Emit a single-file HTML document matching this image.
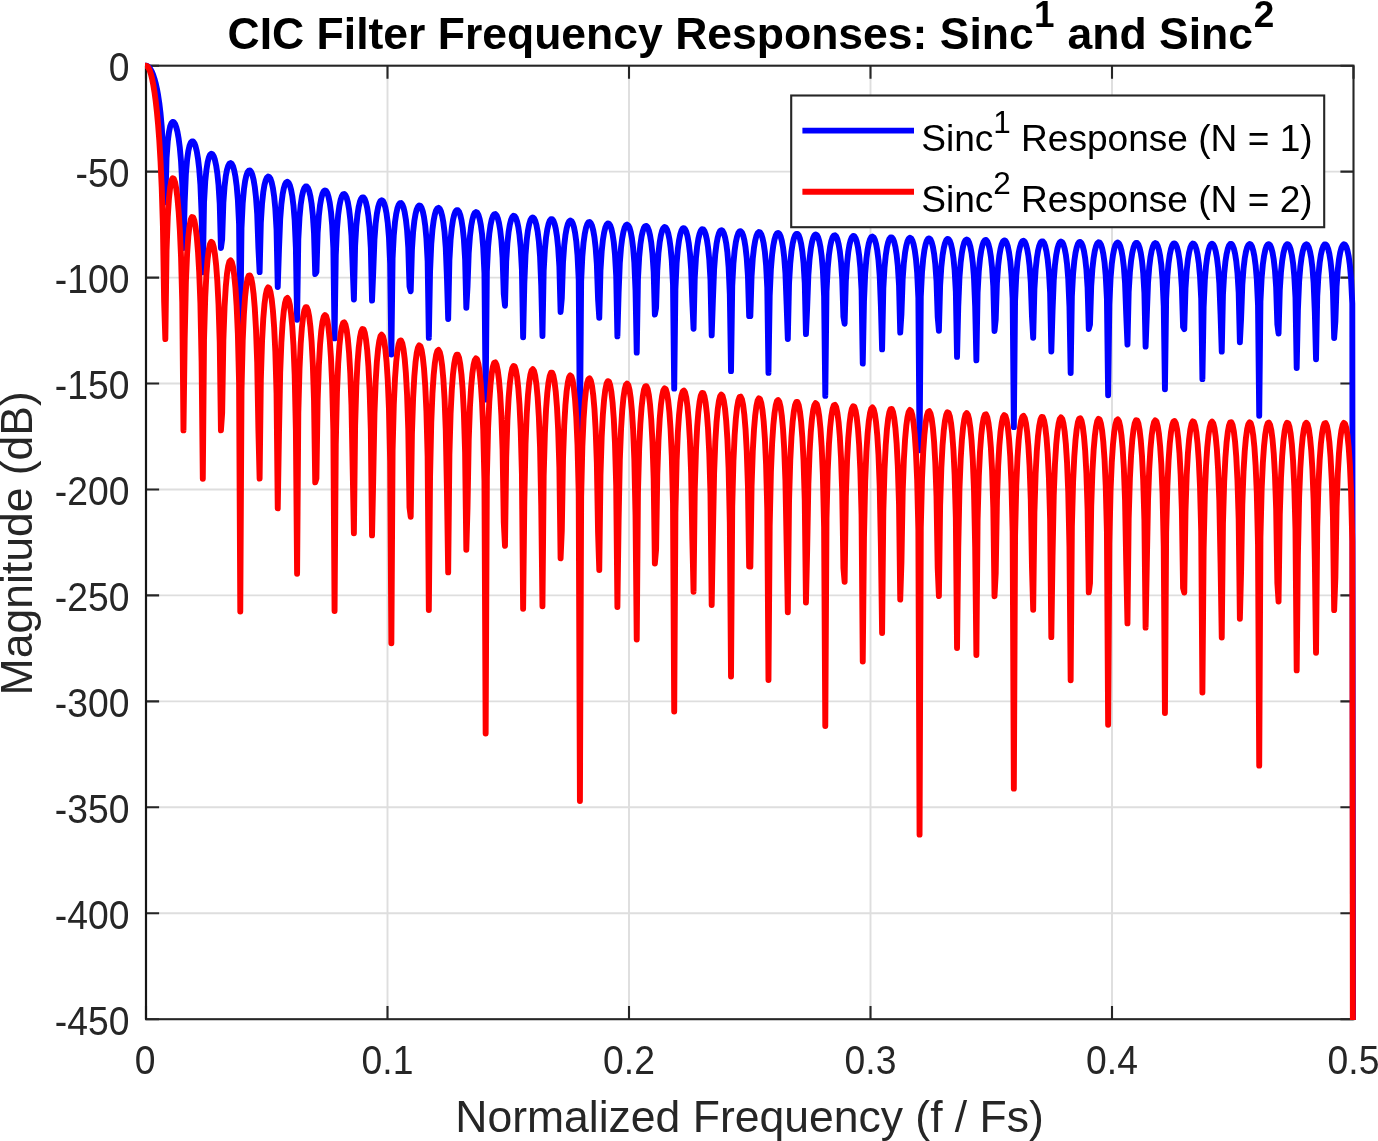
<!DOCTYPE html>
<html><head><meta charset="utf-8"><title>CIC Filter Frequency Responses</title>
<style>html,body{margin:0;padding:0;background:#fff}svg{display:block}</style></head>
<body>
<svg width="1378" height="1141" viewBox="0 0 1378 1141" font-family="'Liberation Sans', Arial, Helvetica, sans-serif">
<rect width="1378" height="1141" fill="#fff"/>
<defs><clipPath id="ax"><rect x="145.0" y="61.7" width="1211.5" height="958.4"/></clipPath></defs>
<path d="M387.50,65.7 V1019.2 M629.00,65.7 V1019.2 M870.50,65.7 V1019.2 M1112.00,65.7 V1019.2 M146.0,171.64 H1353.5 M146.0,277.59 H1353.5 M146.0,383.53 H1353.5 M146.0,489.48 H1353.5 M146.0,595.42 H1353.5 M146.0,701.37 H1353.5 M146.0,807.31 H1353.5 M146.0,913.26 H1353.5" stroke="#dedede" stroke-width="1.9" fill="none"/>
<path d="M146.00,1019.2 v-13.1 M146.00,65.7 v13.1 M387.50,1019.2 v-13.1 M387.50,65.7 v13.1 M629.00,1019.2 v-13.1 M629.00,65.7 v13.1 M870.50,1019.2 v-13.1 M870.50,65.7 v13.1 M1112.00,1019.2 v-13.1 M1112.00,65.7 v13.1 M1353.50,1019.2 v-13.1 M1353.50,65.7 v13.1 M146.0,65.70 h13.1 M1353.5,65.70 h-13.1 M146.0,171.64 h13.1 M1353.5,171.64 h-13.1 M146.0,277.59 h13.1 M1353.5,277.59 h-13.1 M146.0,383.53 h13.1 M1353.5,383.53 h-13.1 M146.0,489.48 h13.1 M1353.5,489.48 h-13.1 M146.0,595.42 h13.1 M1353.5,595.42 h-13.1 M146.0,701.37 h13.1 M1353.5,701.37 h-13.1 M146.0,807.31 h13.1 M1353.5,807.31 h-13.1 M146.0,913.26 h13.1 M1353.5,913.26 h-13.1 M146.0,1019.20 h13.1 M1353.5,1019.20 h-13.1" stroke="#262626" stroke-width="2.1" fill="none"/>
<rect x="146.0" y="65.7" width="1207.5" height="953.5" fill="none" stroke="#262626" stroke-width="2.1"/>
<path d="M146.0,65.7 V1019.2" stroke="#151515" stroke-width="2.1" fill="none"/>
<g clip-path="url(#ax)" fill="none" stroke-linejoin="round" stroke-linecap="round" stroke-width="5.9">
<path d="M146.00,65.70 L147.21,65.95 L148.42,66.70 L149.63,67.96 L150.83,69.77 L152.04,72.14 L153.25,75.13 L154.46,78.80 L155.67,83.26 L156.88,88.64 L158.09,95.16 L159.30,103.15 L160.50,113.22 L161.71,126.51 L162.92,145.97 L164.13,183.70 L165.34,202.39 L166.55,158.33 L167.76,141.44 L168.97,132.03 L170.17,126.43 L171.38,123.28 L172.59,121.97 L173.80,122.22 L175.01,123.92 L176.22,127.07 L177.43,131.83 L178.64,138.55 L179.84,147.93 L181.05,161.53 L182.26,183.97 L183.47,248.04 L184.68,202.49 L185.89,173.93 L187.10,159.77 L188.30,151.22 L189.51,145.86 L190.72,142.72 L191.93,141.35 L193.14,141.52 L194.35,143.16 L195.56,146.35 L196.77,151.29 L197.97,158.42 L199.18,168.70 L200.39,184.42 L201.60,213.71 L202.81,272.21 L204.02,202.66 L205.23,181.55 L206.44,169.70 L207.64,162.24 L208.85,157.52 L210.06,154.81 L211.27,153.78 L212.48,154.25 L213.69,156.22 L214.90,159.81 L216.11,165.29 L217.31,173.27 L218.52,185.05 L219.73,204.12 L220.94,248.03 L222.15,239.40 L223.36,202.90 L224.57,186.30 L225.77,176.30 L226.98,169.86 L228.19,165.82 L229.40,163.63 L230.61,163.04 L231.82,163.95 L233.03,166.38 L234.24,170.52 L235.44,176.75 L236.65,185.86 L237.86,199.70 L239.07,224.09 L240.28,338.62 L241.49,228.43 L242.70,203.21 L243.91,189.69 L245.11,181.18 L246.32,175.67 L247.53,172.29 L248.74,170.65 L249.95,170.55 L251.16,171.95 L252.37,174.93 L253.58,179.74 L254.78,186.87 L255.99,197.43 L257.20,214.13 L258.41,248.02 L259.62,272.13 L260.83,222.76 L262.04,203.59 L263.24,192.34 L264.45,185.07 L265.66,180.40 L266.87,177.66 L268.08,176.57 L269.29,176.99 L270.50,178.92 L271.71,182.51 L272.91,188.08 L274.12,196.31 L275.33,208.71 L276.54,229.59 L277.75,287.02 L278.96,250.03 L280.17,219.35 L281.38,204.04 L282.58,194.55 L283.79,188.35 L285.00,184.44 L286.21,182.32 L287.42,181.78 L288.63,182.73 L289.84,185.24 L291.05,189.50 L292.25,195.96 L293.46,205.51 L294.67,220.34 L295.88,248.00 L297.09,319.73 L298.30,239.46 L299.51,217.15 L300.71,204.57 L301.92,196.50 L303.13,191.24 L304.34,188.02 L305.55,186.50 L306.76,186.51 L307.97,188.02 L309.18,191.14 L310.38,196.15 L311.59,203.63 L312.80,214.83 L314.01,233.05 L315.22,274.04 L316.43,272.00 L317.64,233.08 L318.85,215.70 L320.05,205.17 L321.26,198.29 L322.47,193.86 L323.68,191.31 L324.89,190.36 L326.10,190.92 L327.31,193.01 L328.52,196.80 L329.72,202.65 L330.93,211.35 L332.14,224.64 L333.35,247.98 L334.56,338.34 L335.77,255.27 L336.98,228.83 L338.18,214.75 L339.39,205.84 L340.60,199.99 L341.81,196.31 L343.02,194.39 L344.23,194.01 L345.44,195.13 L346.65,197.83 L347.85,202.35 L349.06,209.16 L350.27,219.32 L351.48,235.43 L352.69,267.60 L353.90,299.45 L355.11,245.78 L356.32,225.85 L357.52,214.17 L358.73,206.59 L359.94,201.64 L361.15,198.67 L362.36,197.34 L363.57,197.53 L364.78,199.23 L365.98,202.58 L367.19,207.89 L368.40,215.82 L369.61,227.82 L370.82,247.95 L372.03,300.56 L373.24,271.82 L374.45,239.55 L375.65,223.71 L376.86,213.88 L378.07,207.43 L379.28,203.29 L380.49,200.96 L381.70,200.21 L382.91,200.97 L384.12,203.28 L385.32,207.33 L386.53,213.54 L387.74,222.80 L388.95,237.17 L390.16,263.68 L391.37,354.49 L392.58,258.34 L393.79,235.15 L394.99,222.17 L396.20,213.83 L397.41,208.35 L398.62,204.94 L399.83,203.23 L401.04,203.06 L402.25,204.40 L403.45,207.34 L404.66,212.15 L405.87,219.40 L407.08,230.27 L408.29,247.91 L409.50,286.53 L410.71,291.28 L411.92,249.88 L413.12,231.92 L414.33,221.07 L415.54,213.97 L416.75,209.35 L417.96,206.63 L419.17,205.52 L420.38,205.92 L421.59,207.85 L422.79,211.47 L424.00,217.13 L425.21,225.58 L426.42,238.50 L427.63,261.00 L428.84,337.88 L430.05,271.58 L431.26,244.00 L432.46,229.50 L433.67,220.33 L434.88,214.29 L436.09,210.44 L437.30,208.36 L438.51,207.84 L439.72,208.82 L440.92,211.37 L442.13,215.71 L443.34,222.33 L444.55,232.23 L445.76,247.87 L446.97,278.58 L448.18,319.03 L449.39,260.30 L450.59,239.68 L451.80,227.68 L453.01,219.88 L454.22,214.76 L455.43,211.63 L456.64,210.17 L457.85,210.22 L459.06,211.79 L460.26,214.99 L461.47,220.14 L462.68,227.86 L463.89,239.55 L465.10,259.04 L466.31,307.71 L467.52,286.64 L468.73,252.72 L469.93,236.41 L471.14,226.32 L472.35,219.68 L473.56,215.38 L474.77,212.92 L475.98,212.05 L477.19,212.68 L478.39,214.86 L479.60,218.76 L480.81,224.80 L482.02,233.83 L483.23,247.82 L484.44,273.32 L485.65,399.61 L486.86,271.29 L488.06,247.23 L489.27,233.89 L490.48,225.34 L491.69,219.69 L492.90,216.15 L494.11,214.32 L495.32,214.03 L496.53,215.24 L497.73,218.05 L498.94,222.72 L500.15,229.78 L501.36,240.39 L502.57,257.53 L503.78,294.07 L504.99,305.74 L506.20,261.59 L507.40,243.07 L508.61,231.95 L509.82,224.66 L511.03,219.90 L512.24,217.05 L513.45,215.82 L514.66,216.11 L515.86,217.92 L517.07,221.41 L518.28,226.92 L519.49,235.17 L520.70,247.77 L521.91,269.52 L523.12,337.23 L524.33,283.52 L525.53,254.75 L526.74,239.85 L527.95,230.46 L529.16,224.25 L530.37,220.28 L531.58,218.08 L532.79,217.45 L534.00,218.32 L535.20,220.75 L536.41,224.96 L537.62,231.42 L538.83,241.09 L540.04,256.32 L541.25,285.70 L542.46,335.97 L543.67,270.94 L544.87,249.63 L546.08,237.33 L547.29,229.34 L548.50,224.08 L549.71,220.83 L550.92,219.25 L552.13,219.20 L553.33,220.66 L554.54,223.75 L555.75,228.76 L556.96,236.30 L558.17,247.71 L559.38,266.62 L560.59,311.98 L561.80,298.15 L563.00,262.45 L564.21,245.67 L565.42,235.34 L566.63,228.54 L567.84,224.11 L569.05,221.54 L570.26,220.56 L571.47,221.09 L572.67,223.16 L573.88,226.94 L575.09,232.84 L576.30,241.67 L577.51,255.31 L578.72,279.88 L579.93,433.37 L581.14,281.19 L582.34,256.22 L583.55,242.55 L584.76,233.79 L585.97,228.00 L587.18,224.34 L588.39,222.41 L589.60,222.02 L590.80,223.13 L592.01,225.83 L593.22,230.38 L594.43,237.28 L595.64,247.65 L596.85,264.32 L598.06,299.02 L599.27,317.84 L600.47,270.54 L601.68,251.45 L602.89,240.06 L604.10,232.61 L605.31,227.71 L606.52,224.75 L607.73,223.43 L608.94,223.62 L610.14,225.33 L611.35,228.71 L612.56,234.08 L613.77,242.15 L614.98,254.46 L616.19,275.52 L617.40,336.39 L618.61,293.03 L619.81,262.99 L621.02,247.69 L622.23,238.09 L623.44,231.73 L624.65,227.64 L625.86,225.34 L627.07,224.61 L628.27,225.38 L629.48,227.71 L630.69,231.81 L631.90,238.12 L633.11,247.58 L634.32,262.42 L635.53,290.60 L636.74,352.59 L637.94,279.32 L639.15,257.29 L640.36,244.69 L641.57,236.52 L642.78,231.13 L643.99,227.77 L645.20,226.10 L646.41,225.95 L647.61,227.31 L648.82,230.30 L650.03,235.18 L651.24,242.57 L652.45,253.72 L653.66,272.09 L654.87,314.58 L656.08,307.76 L657.28,270.08 L658.49,252.83 L659.70,242.27 L660.91,235.31 L662.12,230.76 L663.33,228.09 L664.54,227.02 L665.74,227.45 L666.95,229.43 L668.16,233.10 L669.37,238.87 L670.58,247.50 L671.79,260.83 L673.00,284.53 L674.21,388.61 L675.41,289.22 L676.62,263.28 L677.83,249.27 L679.04,240.32 L680.25,234.39 L681.46,230.62 L682.67,228.59 L683.88,228.11 L685.08,229.13 L686.29,231.74 L687.50,236.16 L688.71,242.92 L689.92,253.07 L691.13,269.30 L692.34,302.34 L693.55,328.70 L694.75,277.71 L695.96,258.04 L697.17,246.39 L698.38,238.77 L699.59,233.75 L700.80,230.69 L702.01,229.28 L703.21,229.38 L704.42,231.00 L705.63,234.27 L706.84,239.52 L708.05,247.42 L709.26,259.45 L710.47,279.86 L711.68,335.35 L712.88,300.98 L714.09,269.56 L715.30,253.87 L716.51,244.05 L717.72,237.55 L718.93,233.35 L720.14,230.95 L721.35,230.13 L722.55,230.82 L723.76,233.05 L724.97,237.05 L726.18,243.22 L727.39,252.48 L728.60,266.96 L729.81,294.03 L731.02,371.09 L732.22,286.18 L733.43,263.39 L734.64,250.49 L735.85,242.15 L737.06,236.63 L738.27,233.17 L739.48,231.40 L740.68,231.17 L741.89,232.44 L743.10,235.33 L744.31,240.10 L745.52,247.33 L746.73,258.24 L747.94,276.10 L749.15,316.10 L750.35,316.16 L751.56,276.27 L752.77,258.53 L753.98,247.74 L755.19,240.62 L756.40,235.97 L757.61,233.20 L758.82,232.04 L760.02,232.39 L761.23,234.27 L762.44,237.84 L763.65,243.48 L764.86,251.94 L766.07,264.95 L767.28,287.86 L768.48,372.89 L769.69,295.94 L770.90,268.98 L772.11,254.62 L773.32,245.48 L774.53,239.42 L775.74,235.55 L776.95,233.42 L778.15,232.86 L779.36,233.79 L780.57,236.30 L781.78,240.62 L782.99,247.23 L784.20,257.17 L785.41,272.98 L786.62,304.52 L787.82,339.00 L789.03,283.62 L790.24,263.34 L791.45,251.42 L792.66,243.64 L793.87,238.50 L795.08,235.35 L796.29,233.84 L797.49,233.86 L798.70,235.39 L799.91,238.57 L801.12,243.70 L802.33,251.44 L803.54,263.20 L804.75,283.00 L805.95,334.10 L807.16,307.85 L808.37,274.93 L809.58,258.82 L810.79,248.79 L812.00,242.15 L813.21,237.84 L814.42,235.36 L815.62,234.45 L816.83,235.05 L818.04,237.20 L819.25,241.09 L820.46,247.13 L821.67,256.20 L822.88,270.33 L824.09,296.38 L825.29,395.89 L826.50,291.93 L827.71,268.34 L828.92,255.14 L830.13,246.62 L831.34,240.98 L832.55,237.42 L833.76,235.56 L834.96,235.25 L836.17,236.44 L837.38,239.23 L838.59,243.89 L839.80,250.97 L841.01,261.65 L842.22,279.02 L843.42,316.82 L844.63,323.76 L845.84,281.39 L847.05,263.14 L848.26,252.10 L849.47,244.84 L850.68,240.07 L851.89,237.21 L853.09,235.97 L854.30,236.23 L855.51,238.03 L856.72,241.51 L857.93,247.02 L859.14,255.31 L860.35,268.03 L861.56,290.18 L862.76,363.57 L863.97,301.71 L865.18,273.65 L866.39,258.92 L867.60,249.59 L868.81,243.40 L870.02,239.42 L871.23,237.21 L872.43,236.56 L873.64,237.42 L874.85,239.84 L876.06,244.05 L877.27,250.53 L878.48,260.26 L879.69,275.67 L880.89,305.84 L882.10,349.32 L883.31,288.57 L884.52,267.64 L885.73,255.46 L886.94,247.51 L888.15,242.26 L889.36,239.01 L890.56,237.42 L891.77,237.35 L892.98,238.80 L894.19,241.88 L895.40,246.90 L896.61,254.48 L897.82,265.99 L899.03,285.21 L900.23,332.64 L901.44,313.94 L902.65,279.36 L903.86,262.82 L905.07,252.57 L906.28,245.80 L907.49,241.38 L908.70,238.81 L909.90,237.82 L911.11,238.34 L912.32,240.40 L913.53,244.19 L914.74,250.10 L915.95,258.99 L917.16,272.79 L918.36,297.89 L919.57,450.19 L920.78,296.83 L921.99,272.39 L923.20,258.87 L924.41,250.17 L925.62,244.41 L926.83,240.75 L928.03,238.81 L929.24,238.41 L930.45,239.52 L931.66,242.22 L932.87,246.78 L934.08,253.71 L935.29,264.17 L936.50,281.08 L937.70,316.91 L938.91,330.87 L940.12,285.65 L941.33,266.87 L942.54,255.59 L943.75,248.18 L944.96,243.30 L946.17,240.35 L947.37,239.02 L948.58,239.21 L949.79,240.92 L951.00,244.30 L952.21,249.69 L953.42,257.82 L954.63,270.25 L955.83,291.70 L957.04,356.86 L958.25,306.73 L959.46,277.48 L960.67,262.38 L961.88,252.85 L963.09,246.53 L964.30,242.45 L965.50,240.16 L966.71,239.43 L967.92,240.20 L969.13,242.53 L970.34,246.64 L971.55,252.99 L972.76,262.52 L973.97,277.56 L975.17,306.46 L976.38,360.31 L977.59,292.74 L978.80,271.13 L980.01,258.67 L981.22,250.56 L982.43,245.19 L983.64,241.85 L984.84,240.18 L986.05,240.03 L987.26,241.40 L988.47,244.39 L989.68,249.30 L990.89,256.73 L992.10,267.99 L993.30,286.66 L994.51,330.95 L995.72,319.42 L996.93,283.02 L998.14,266.03 L999.35,255.57 L1000.56,248.65 L1001.77,244.13 L1002.97,241.46 L1004.18,240.40 L1005.39,240.83 L1006.60,242.81 L1007.81,246.50 L1009.02,252.30 L1010.23,261.00 L1011.44,274.48 L1012.64,298.70 L1013.85,427.16 L1015.06,301.02 L1016.27,275.68 L1017.48,261.84 L1018.69,252.96 L1019.90,247.07 L1021.11,243.32 L1022.31,241.29 L1023.52,240.82 L1024.73,241.84 L1025.94,244.46 L1027.15,248.91 L1028.36,255.70 L1029.57,265.95 L1030.77,282.41 L1031.98,316.48 L1033.19,337.72 L1034.40,289.20 L1035.61,269.86 L1036.82,258.34 L1038.03,250.77 L1039.24,245.78 L1040.44,242.74 L1041.65,241.33 L1042.86,241.44 L1044.07,243.06 L1045.28,246.35 L1046.49,251.63 L1047.70,259.59 L1048.91,271.76 L1050.11,292.54 L1051.32,351.43 L1052.53,311.14 L1053.74,280.60 L1054.95,265.12 L1056.16,255.39 L1057.37,248.94 L1058.58,244.76 L1059.78,242.38 L1060.99,241.57 L1062.20,242.26 L1063.41,244.51 L1064.62,248.52 L1065.83,254.74 L1067.04,264.07 L1068.24,278.75 L1069.45,306.50 L1070.66,372.97 L1071.87,296.26 L1073.08,273.93 L1074.29,261.18 L1075.50,252.91 L1076.71,247.42 L1077.91,243.98 L1079.12,242.23 L1080.33,242.01 L1081.54,243.29 L1082.75,246.19 L1083.96,250.99 L1085.17,258.28 L1086.38,269.30 L1087.58,287.45 L1088.79,329.02 L1090.00,324.45 L1091.21,286.02 L1092.42,268.56 L1093.63,257.88 L1094.84,250.82 L1096.05,246.19 L1097.25,243.44 L1098.46,242.29 L1099.67,242.65 L1100.88,244.54 L1102.09,248.14 L1103.30,253.81 L1104.51,262.34 L1105.71,275.52 L1106.92,298.90 L1108.13,395.24 L1109.34,304.62 L1110.55,278.31 L1111.76,264.14 L1112.97,255.08 L1114.18,249.06 L1115.38,245.21 L1116.59,243.11 L1117.80,242.55 L1119.01,243.50 L1120.22,246.02 L1121.43,250.37 L1122.64,257.03 L1123.85,267.06 L1125.05,283.11 L1126.26,315.58 L1127.47,344.53 L1128.68,292.13 L1129.89,272.21 L1131.10,260.43 L1132.31,252.71 L1133.52,247.61 L1134.72,244.47 L1135.93,242.98 L1137.14,243.01 L1138.35,244.56 L1139.56,247.76 L1140.77,252.92 L1141.98,260.73 L1143.18,272.62 L1144.39,292.78 L1145.60,346.67 L1146.81,315.05 L1148.02,283.10 L1149.23,267.22 L1150.44,257.29 L1151.65,250.71 L1152.85,246.43 L1154.06,243.96 L1155.27,243.07 L1156.48,243.68 L1157.69,245.85 L1158.90,249.76 L1160.11,255.85 L1161.32,265.00 L1162.52,279.32 L1163.73,306.00 L1164.94,389.32 L1166.15,299.20 L1167.36,276.11 L1168.57,263.07 L1169.78,254.63 L1170.98,249.02 L1172.19,245.49 L1173.40,243.66 L1174.61,243.35 L1175.82,244.56 L1177.03,247.37 L1178.24,252.07 L1179.45,259.20 L1180.65,270.00 L1181.86,287.65 L1183.07,326.84 L1184.28,329.15 L1185.49,288.43 L1186.70,270.48 L1187.91,259.57 L1189.12,252.36 L1190.32,247.63 L1191.53,244.79 L1192.74,243.56 L1193.95,243.84 L1195.16,245.66 L1196.37,249.16 L1197.58,254.71 L1198.79,263.08 L1199.99,275.95 L1201.20,298.56 L1202.41,379.14 L1203.62,307.71 L1204.83,280.35 L1206.04,265.83 L1207.25,256.59 L1208.45,250.45 L1209.66,246.50 L1210.87,244.31 L1212.08,243.68 L1213.29,244.54 L1214.50,246.99 L1215.71,251.23 L1216.92,257.76 L1218.12,267.58 L1219.33,283.23 L1220.54,314.25 L1221.75,351.58 L1222.96,294.50 L1224.17,273.96 L1225.38,261.92 L1226.59,254.05 L1227.79,248.83 L1229.00,245.61 L1230.21,244.04 L1231.42,243.99 L1232.63,245.46 L1233.84,248.56 L1235.05,253.62 L1236.26,261.27 L1237.46,272.91 L1238.67,292.47 L1239.88,342.24 L1241.09,318.52 L1242.30,285.03 L1243.51,268.74 L1244.72,258.60 L1245.92,251.88 L1247.13,247.50 L1248.34,244.94 L1249.55,243.98 L1250.76,244.51 L1251.97,246.59 L1253.18,250.41 L1254.39,256.38 L1255.59,265.34 L1256.80,279.33 L1258.01,305.02 L1259.22,415.68 L1260.43,301.62 L1261.64,277.72 L1262.85,264.38 L1264.06,255.76 L1265.26,250.04 L1266.47,246.41 L1267.68,244.50 L1268.89,244.12 L1270.10,245.24 L1271.31,247.97 L1272.52,252.56 L1273.73,259.55 L1274.93,270.12 L1276.14,287.30 L1277.35,324.38 L1278.56,333.61 L1279.77,290.29 L1280.98,271.84 L1282.19,260.68 L1283.39,253.34 L1284.60,248.50 L1285.81,245.57 L1287.02,244.26 L1288.23,244.46 L1289.44,246.19 L1290.65,249.60 L1291.86,255.04 L1293.06,263.24 L1294.27,275.83 L1295.48,297.71 L1296.69,368.03 L1297.90,310.32 L1299.11,281.84 L1300.32,266.96 L1301.53,257.53 L1302.73,251.26 L1303.94,247.21 L1305.15,244.94 L1306.36,244.23 L1307.57,245.02 L1308.78,247.38 L1309.99,251.52 L1311.20,257.92 L1312.40,267.55 L1313.61,282.80 L1314.82,312.50 L1316.03,359.22 L1317.24,296.35 L1318.45,275.17 L1319.66,262.85 L1320.86,254.82 L1322.07,249.50 L1323.28,246.18 L1324.49,244.53 L1325.70,244.40 L1326.91,245.79 L1328.12,248.80 L1329.33,253.75 L1330.53,261.25 L1331.74,272.64 L1332.95,291.64 L1334.16,337.93 L1335.37,321.62 L1336.58,286.43 L1337.79,269.70 L1339.00,259.35 L1340.20,252.49 L1341.41,248.01 L1342.62,245.37 L1343.83,244.32 L1345.04,244.78 L1346.25,246.78 L1347.46,250.50 L1348.67,256.34 L1349.87,265.13 L1351.08,278.79 L1352.29,303.56 L1353.50,1439.84" stroke="#0000ff"/>
<path d="M146.00,65.70 L147.21,66.20 L148.42,67.70 L149.63,70.23 L150.83,73.83 L152.04,78.57 L153.25,84.55 L154.46,91.90 L155.67,100.82 L156.88,111.58 L158.09,124.62 L159.30,140.61 L160.50,160.73 L161.71,187.33 L162.92,226.24 L164.13,301.70 L165.34,339.08 L166.55,250.95 L167.76,217.17 L168.97,198.37 L170.17,187.16 L171.38,180.85 L172.59,178.24 L173.80,178.75 L175.01,182.14 L176.22,188.44 L177.43,197.97 L178.64,211.40 L179.84,230.15 L181.05,257.36 L182.26,302.24 L183.47,430.38 L184.68,339.29 L185.89,282.16 L187.10,253.85 L188.30,236.73 L189.51,226.02 L190.72,219.75 L191.93,217.00 L193.14,217.34 L194.35,220.63 L195.56,227.00 L196.77,236.87 L197.97,251.15 L199.18,271.71 L200.39,303.13 L201.60,361.72 L202.81,478.73 L204.02,339.63 L205.23,297.40 L206.44,273.71 L207.64,258.78 L208.85,249.34 L210.06,243.93 L211.27,241.85 L212.48,242.80 L213.69,246.75 L214.90,253.91 L216.11,264.88 L217.31,280.84 L218.52,304.39 L219.73,342.53 L220.94,430.37 L222.15,413.10 L223.36,340.11 L224.57,306.90 L225.77,286.89 L226.98,274.01 L228.19,265.94 L229.40,261.57 L230.61,260.38 L231.82,262.20 L233.03,267.07 L234.24,275.35 L235.44,287.80 L236.65,306.03 L237.86,333.70 L239.07,382.47 L240.28,611.54 L241.49,391.17 L242.70,340.72 L243.91,313.68 L245.11,296.66 L246.32,285.63 L247.53,278.89 L248.74,275.61 L249.95,275.41 L251.16,278.20 L252.37,284.16 L253.58,293.77 L254.78,308.05 L255.99,329.15 L257.20,362.55 L258.41,430.34 L259.62,478.57 L260.83,379.82 L262.04,341.48 L263.24,318.97 L264.45,304.45 L265.66,295.09 L266.87,289.63 L268.08,287.44 L269.29,288.28 L270.50,292.15 L271.71,299.32 L272.91,310.47 L274.12,326.93 L275.33,351.72 L276.54,393.49 L277.75,508.33 L278.96,434.37 L280.17,372.99 L281.38,342.39 L282.58,323.40 L283.79,311.01 L285.00,303.17 L286.21,298.94 L287.42,297.85 L288.63,299.76 L289.84,304.78 L291.05,313.30 L292.25,326.21 L293.46,345.32 L294.67,374.98 L295.88,430.30 L297.09,573.77 L298.30,413.21 L299.51,368.60 L300.71,343.43 L301.92,327.30 L303.13,316.77 L304.34,310.35 L305.55,307.30 L306.76,307.31 L307.97,310.33 L309.18,316.58 L310.38,326.61 L311.59,341.57 L312.80,363.95 L314.01,400.40 L315.22,482.38 L316.43,478.31 L317.64,400.46 L318.85,365.69 L320.05,344.63 L321.26,330.88 L322.47,322.02 L323.68,316.91 L324.89,315.02 L326.10,316.14 L327.31,320.32 L328.52,327.90 L329.72,339.61 L330.93,357.00 L332.14,383.58 L333.35,430.25 L334.56,610.99 L335.77,444.84 L336.98,391.96 L338.18,363.80 L339.39,345.98 L340.60,334.28 L341.81,326.93 L343.02,323.07 L344.23,322.32 L345.44,324.57 L346.65,329.97 L347.85,338.99 L349.06,352.62 L350.27,372.95 L351.48,405.16 L352.69,469.50 L353.90,533.20 L355.11,425.86 L356.32,386.00 L357.52,362.65 L358.73,347.49 L359.94,337.59 L361.15,331.63 L362.36,328.97 L363.57,329.35 L364.78,332.76 L365.98,339.46 L367.19,350.09 L368.40,365.95 L369.61,389.93 L370.82,430.19 L372.03,535.42 L373.24,477.94 L374.45,413.40 L375.65,381.72 L376.86,362.07 L378.07,349.16 L379.28,340.87 L380.49,336.22 L381.70,334.73 L382.91,336.24 L384.12,340.85 L385.32,348.95 L386.53,361.38 L387.74,379.89 L388.95,408.64 L390.16,461.65 L391.37,643.28 L392.58,450.98 L393.79,404.60 L394.99,378.64 L396.20,361.96 L397.41,350.99 L398.62,344.18 L399.83,340.77 L401.04,340.43 L402.25,343.10 L403.45,348.98 L404.66,358.60 L405.87,373.09 L407.08,394.84 L408.29,430.12 L409.50,507.35 L410.71,516.86 L411.92,434.07 L413.12,398.14 L414.33,376.45 L415.54,362.24 L416.75,353.00 L417.96,347.55 L419.17,345.34 L420.38,346.14 L421.59,350.00 L422.79,357.23 L424.00,368.56 L425.21,385.45 L426.42,411.30 L427.63,456.30 L428.84,610.06 L430.05,477.46 L431.26,422.30 L432.46,393.30 L433.67,374.97 L434.88,362.88 L436.09,355.19 L437.30,351.03 L438.51,349.98 L439.72,351.94 L440.92,357.04 L442.13,365.73 L443.34,378.97 L444.55,398.75 L445.76,430.04 L446.97,491.45 L448.18,572.36 L449.39,454.90 L450.59,413.66 L451.80,389.66 L453.01,374.07 L454.22,363.83 L455.43,357.57 L456.64,354.64 L457.85,354.74 L459.06,357.87 L460.26,364.28 L461.47,374.58 L462.68,390.02 L463.89,413.39 L465.10,452.38 L466.31,549.73 L467.52,507.57 L468.73,439.74 L469.93,407.12 L471.14,386.95 L472.35,373.66 L473.56,365.07 L474.77,360.15 L475.98,358.40 L477.19,359.66 L478.39,364.01 L479.60,371.82 L480.81,383.91 L482.02,401.96 L483.23,429.95 L484.44,480.93 L485.65,733.51 L486.86,476.88 L488.06,428.75 L489.27,402.09 L490.48,384.98 L491.69,373.68 L492.90,366.60 L494.11,362.94 L495.32,362.36 L496.53,364.78 L497.73,370.40 L498.94,379.74 L500.15,393.86 L501.36,415.08 L502.57,449.36 L503.78,522.44 L504.99,545.79 L506.20,457.49 L507.40,420.44 L508.61,398.20 L509.82,383.63 L511.03,374.09 L512.24,368.39 L513.45,365.95 L514.66,366.52 L515.86,370.15 L517.07,377.12 L518.28,388.14 L519.49,404.64 L520.70,429.84 L521.91,473.34 L523.12,608.76 L524.33,501.34 L525.53,443.80 L526.74,414.00 L527.95,395.22 L529.16,382.81 L530.37,374.86 L531.58,370.47 L532.79,369.20 L534.00,370.93 L535.20,375.80 L536.41,384.23 L537.62,397.14 L538.83,416.47 L540.04,446.93 L541.25,505.70 L542.46,606.24 L543.67,476.19 L544.87,433.56 L546.08,408.96 L547.29,392.98 L548.50,382.46 L549.71,375.96 L550.92,372.81 L552.13,372.70 L553.33,375.62 L554.54,381.79 L555.75,391.82 L556.96,406.91 L558.17,429.73 L559.38,467.55 L560.59,558.25 L561.80,530.60 L563.00,459.20 L564.21,425.64 L565.42,404.99 L566.63,391.37 L567.84,382.53 L569.05,377.38 L570.26,375.43 L571.47,376.48 L572.67,380.62 L573.88,388.19 L575.09,399.98 L576.30,417.63 L577.51,444.93 L578.72,494.05 L579.93,801.03 L581.14,496.69 L582.34,446.75 L583.55,419.40 L584.76,401.89 L585.97,390.31 L587.18,382.99 L588.39,379.12 L589.60,378.34 L590.80,380.56 L592.01,385.97 L593.22,395.05 L594.43,408.86 L595.64,429.60 L596.85,462.94 L598.06,532.33 L599.27,569.99 L600.47,475.38 L601.68,437.20 L602.89,414.43 L604.10,399.52 L605.31,389.73 L606.52,383.81 L607.73,381.16 L608.94,381.54 L610.14,384.96 L611.35,391.72 L612.56,402.47 L613.77,418.60 L614.98,443.22 L616.19,485.33 L617.40,607.08 L618.61,520.36 L619.81,460.27 L621.02,429.68 L622.23,410.47 L623.44,397.76 L624.65,389.58 L625.86,384.98 L627.07,383.52 L628.27,385.07 L629.48,389.73 L630.69,397.93 L631.90,410.55 L633.11,429.46 L634.32,459.15 L635.53,515.51 L636.74,639.47 L637.94,492.94 L639.15,448.87 L640.36,423.67 L641.57,407.34 L642.78,396.55 L643.99,389.84 L645.20,386.49 L646.41,386.20 L647.61,388.93 L648.82,394.89 L650.03,404.67 L651.24,419.43 L652.45,441.74 L653.66,478.48 L654.87,563.46 L656.08,549.82 L657.28,474.46 L658.49,439.96 L659.70,418.84 L660.91,404.91 L662.12,395.83 L663.33,390.48 L664.54,388.34 L665.74,389.21 L666.95,393.15 L668.16,400.51 L669.37,412.03 L670.58,429.31 L671.79,455.95 L673.00,503.36 L674.21,711.52 L675.41,512.73 L676.62,460.87 L677.83,432.84 L679.04,414.94 L680.25,403.09 L681.46,395.55 L682.67,391.49 L683.88,390.52 L685.08,392.57 L686.29,397.77 L687.50,406.63 L688.71,420.14 L689.92,440.43 L691.13,472.89 L692.34,538.97 L693.55,591.69 L694.75,489.73 L695.96,450.37 L697.17,427.08 L698.38,411.84 L699.59,401.80 L700.80,395.68 L702.01,392.85 L703.21,393.05 L704.42,396.29 L705.63,402.84 L706.84,413.34 L708.05,429.14 L709.26,453.20 L710.47,494.01 L711.68,604.99 L712.88,536.26 L714.09,473.43 L715.30,442.03 L716.51,422.39 L717.72,409.40 L718.93,401.00 L720.14,396.21 L721.35,394.57 L722.55,395.94 L723.76,400.41 L724.97,408.39 L726.18,420.74 L727.39,439.25 L728.60,468.22 L729.81,522.36 L731.02,676.48 L732.22,506.66 L733.43,461.08 L734.64,435.28 L735.85,418.60 L737.06,407.55 L738.27,400.64 L739.48,397.11 L740.68,396.64 L741.89,399.19 L743.10,404.96 L744.31,414.50 L745.52,428.96 L746.73,450.79 L747.94,486.50 L749.15,566.50 L750.35,566.61 L751.56,486.85 L752.77,451.37 L753.98,429.77 L755.19,415.55 L756.40,406.23 L757.61,400.69 L758.82,398.38 L760.02,399.08 L761.23,402.84 L762.44,409.99 L763.65,421.26 L764.86,438.18 L766.07,464.21 L767.28,510.01 L768.48,680.07 L769.69,526.18 L770.90,472.27 L772.11,443.54 L773.32,425.26 L774.53,413.14 L775.74,405.39 L776.95,401.15 L778.15,400.01 L779.36,401.88 L780.57,406.91 L781.78,415.54 L782.99,428.77 L784.20,448.64 L785.41,480.27 L786.62,543.34 L787.82,612.30 L789.03,501.55 L790.24,460.97 L791.45,437.14 L792.66,421.58 L793.87,411.31 L795.08,404.99 L796.29,401.99 L797.49,402.02 L798.70,405.08 L799.91,411.44 L801.12,421.70 L802.33,437.18 L803.54,460.71 L804.75,500.30 L805.95,602.50 L807.16,550.01 L808.37,484.17 L809.58,451.94 L810.79,431.88 L812.00,418.60 L813.21,409.98 L814.42,405.01 L815.62,403.20 L816.83,404.40 L818.04,408.70 L819.25,416.47 L820.46,428.56 L821.67,446.69 L822.88,474.96 L824.09,527.06 L825.29,726.08 L826.50,518.16 L827.71,470.99 L828.92,444.58 L830.13,427.54 L831.34,416.25 L832.55,409.13 L833.76,405.43 L834.96,404.80 L836.17,407.17 L837.38,412.76 L838.59,422.08 L839.80,436.24 L841.01,457.61 L842.22,492.35 L843.42,567.94 L844.63,581.83 L845.84,497.08 L847.05,460.58 L848.26,438.51 L849.47,423.99 L850.68,414.45 L851.89,408.72 L853.09,406.24 L854.30,406.77 L855.51,410.36 L856.72,417.31 L857.93,428.34 L859.14,444.91 L860.35,470.36 L861.56,514.66 L862.76,661.44 L863.97,537.72 L865.18,481.60 L866.39,452.15 L867.60,433.48 L868.81,421.10 L870.02,413.15 L871.23,408.73 L872.43,407.43 L873.64,409.13 L874.85,413.98 L876.06,422.40 L877.27,435.36 L878.48,454.81 L879.69,485.65 L880.89,545.98 L882.10,632.94 L883.31,511.45 L884.52,469.58 L885.73,445.21 L886.94,429.32 L888.15,418.82 L889.36,412.31 L890.56,409.14 L891.77,409.01 L892.98,411.90 L894.19,418.07 L895.40,428.11 L896.61,443.27 L897.82,466.29 L899.03,504.72 L900.23,599.58 L901.44,562.17 L902.65,493.03 L903.86,459.94 L905.07,439.45 L906.28,425.90 L907.49,417.06 L908.70,411.91 L909.90,409.94 L911.11,410.97 L912.32,415.10 L913.53,422.67 L914.74,434.51 L915.95,452.27 L917.16,479.87 L918.36,530.07 L919.57,834.67 L920.78,527.95 L921.99,479.08 L923.20,452.04 L924.41,434.65 L925.62,423.11 L926.83,415.80 L928.03,411.92 L929.24,411.13 L930.45,413.34 L931.66,418.75 L932.87,427.86 L934.08,441.73 L935.29,462.65 L936.50,496.46 L937.70,568.13 L938.91,596.04 L940.12,505.60 L941.33,468.04 L942.54,445.49 L943.75,430.66 L944.96,420.90 L946.17,414.99 L947.37,412.34 L948.58,412.71 L949.79,416.13 L951.00,422.90 L952.21,433.69 L953.42,449.93 L954.63,474.80 L955.83,517.70 L957.04,648.02 L958.25,547.75 L959.46,489.26 L960.67,459.07 L961.88,440.01 L963.09,427.37 L964.30,419.21 L965.50,414.62 L966.71,413.15 L967.92,414.70 L969.13,419.36 L970.34,427.59 L971.55,440.28 L972.76,459.34 L973.97,489.41 L975.17,547.23 L976.38,654.93 L977.59,519.79 L978.80,476.57 L980.01,451.64 L981.22,435.42 L982.43,424.69 L983.64,417.99 L984.84,414.65 L986.05,414.36 L987.26,417.09 L988.47,423.08 L989.68,432.89 L990.89,447.75 L992.10,470.28 L993.30,507.62 L994.51,596.20 L995.72,573.14 L996.93,500.35 L998.14,466.36 L999.35,445.44 L1000.56,431.60 L1001.77,422.56 L1002.97,417.23 L1004.18,415.09 L1005.39,415.97 L1006.60,419.92 L1007.81,427.31 L1009.02,438.89 L1010.23,456.30 L1011.44,483.27 L1012.64,531.69 L1013.85,788.62 L1015.06,536.34 L1016.27,485.66 L1017.48,457.97 L1018.69,440.22 L1019.90,428.44 L1021.11,420.93 L1022.31,416.89 L1023.52,415.93 L1024.73,417.99 L1025.94,423.21 L1027.15,432.11 L1028.36,445.71 L1029.57,466.19 L1030.77,499.12 L1031.98,567.27 L1033.19,609.73 L1034.40,512.70 L1035.61,474.03 L1036.82,450.97 L1038.03,435.84 L1039.24,425.86 L1040.44,419.77 L1041.65,416.96 L1042.86,417.17 L1044.07,420.43 L1045.28,427.00 L1046.49,437.57 L1047.70,453.49 L1048.91,477.81 L1050.11,519.38 L1051.32,637.16 L1052.53,556.58 L1053.74,495.50 L1054.95,464.54 L1056.16,445.09 L1057.37,432.18 L1058.58,423.82 L1059.78,419.06 L1060.99,417.44 L1062.20,418.82 L1063.41,423.32 L1064.62,431.34 L1065.83,443.77 L1067.04,462.45 L1068.24,491.79 L1069.45,547.29 L1070.66,680.24 L1071.87,526.82 L1073.08,482.17 L1074.29,456.67 L1075.50,440.12 L1076.71,429.15 L1077.91,422.27 L1079.12,418.76 L1080.33,418.31 L1081.54,420.88 L1082.75,426.69 L1083.96,436.29 L1085.17,450.85 L1086.38,472.90 L1087.58,509.20 L1088.79,592.35 L1090.00,583.21 L1091.21,506.35 L1092.42,471.43 L1093.63,450.05 L1094.84,435.93 L1096.05,426.68 L1097.25,421.17 L1098.46,418.88 L1099.67,419.60 L1100.88,423.38 L1102.09,430.58 L1103.30,441.92 L1104.51,458.98 L1105.71,485.33 L1106.92,532.10 L1108.13,724.79 L1109.34,543.55 L1110.55,490.93 L1111.76,462.57 L1112.97,444.46 L1114.18,432.42 L1115.38,424.72 L1116.59,420.51 L1117.80,419.40 L1119.01,421.29 L1120.22,426.35 L1121.43,435.04 L1122.64,448.36 L1123.85,468.43 L1125.05,500.52 L1126.26,565.47 L1127.47,623.36 L1128.68,518.56 L1129.89,478.72 L1131.10,455.15 L1132.31,439.72 L1133.52,429.52 L1134.72,423.24 L1135.93,420.27 L1137.14,420.33 L1138.35,423.42 L1139.56,429.81 L1140.77,440.15 L1141.98,455.75 L1143.18,479.55 L1144.39,519.86 L1145.60,627.64 L1146.81,564.40 L1148.02,500.50 L1149.23,468.75 L1150.44,448.88 L1151.65,435.71 L1152.85,427.15 L1154.06,422.21 L1155.27,420.44 L1156.48,421.66 L1157.69,425.99 L1158.90,433.82 L1160.11,446.00 L1161.32,464.30 L1162.52,492.94 L1163.73,546.30 L1164.94,712.94 L1166.15,532.71 L1167.36,486.53 L1168.57,460.44 L1169.78,443.56 L1170.98,432.35 L1172.19,425.28 L1173.40,421.61 L1174.61,421.01 L1175.82,423.42 L1177.03,429.04 L1178.24,438.43 L1179.45,452.71 L1180.65,474.30 L1181.86,509.60 L1183.07,587.99 L1184.28,592.60 L1185.49,511.16 L1186.70,475.27 L1187.91,453.43 L1189.12,439.03 L1190.32,429.56 L1191.53,423.88 L1192.74,421.43 L1193.95,421.99 L1195.16,425.61 L1196.37,432.62 L1197.58,443.73 L1198.79,460.45 L1199.99,486.20 L1201.20,531.42 L1202.41,692.58 L1203.62,549.72 L1204.83,495.01 L1206.04,465.96 L1207.25,447.48 L1208.45,435.19 L1209.66,427.30 L1210.87,422.92 L1212.08,421.65 L1213.29,423.39 L1214.50,428.27 L1215.71,436.76 L1216.92,449.82 L1218.12,469.47 L1219.33,500.75 L1220.54,562.81 L1221.75,637.46 L1222.96,523.30 L1224.17,482.23 L1225.38,458.14 L1226.59,442.39 L1227.79,431.97 L1229.00,425.52 L1230.21,422.38 L1231.42,422.28 L1232.63,425.21 L1233.84,431.43 L1235.05,441.54 L1236.26,456.84 L1237.46,480.12 L1238.67,519.24 L1239.88,618.78 L1241.09,571.35 L1242.30,504.37 L1243.51,471.78 L1244.72,451.50 L1245.92,438.06 L1247.13,429.30 L1248.34,424.19 L1249.55,422.25 L1250.76,423.32 L1251.97,427.49 L1253.18,435.12 L1254.39,447.05 L1255.59,464.99 L1256.80,492.96 L1258.01,544.33 L1259.22,765.65 L1260.43,537.55 L1261.64,489.75 L1262.85,463.06 L1264.06,445.83 L1265.26,434.38 L1266.47,427.13 L1267.68,423.30 L1268.89,422.54 L1270.10,424.79 L1271.31,430.24 L1272.52,439.42 L1273.73,453.41 L1274.93,474.55 L1276.14,508.90 L1277.35,583.07 L1278.56,601.52 L1279.77,514.89 L1280.98,477.97 L1282.19,455.67 L1283.39,440.97 L1284.60,431.29 L1285.81,425.43 L1287.02,422.82 L1288.23,423.23 L1289.44,426.69 L1290.65,433.51 L1291.86,444.39 L1293.06,460.78 L1294.27,485.96 L1295.48,529.71 L1296.69,670.37 L1297.90,554.95 L1299.11,497.99 L1300.32,468.22 L1301.53,449.36 L1302.73,436.82 L1303.94,428.73 L1305.15,424.18 L1306.36,422.76 L1307.57,424.34 L1308.78,429.05 L1309.99,437.34 L1311.20,450.14 L1312.40,469.39 L1313.61,499.90 L1314.82,559.30 L1316.03,652.74 L1317.24,527.01 L1318.45,484.63 L1319.66,460.01 L1320.86,443.94 L1322.07,433.29 L1323.28,426.65 L1324.49,423.36 L1325.70,423.10 L1326.91,425.87 L1328.12,431.91 L1329.33,441.81 L1330.53,456.80 L1331.74,479.59 L1332.95,517.58 L1334.16,610.17 L1335.37,577.54 L1336.58,507.16 L1337.79,473.71 L1339.00,453.00 L1340.20,439.29 L1341.41,430.32 L1342.62,425.04 L1343.83,422.95 L1345.04,423.86 L1346.25,427.86 L1347.46,435.30 L1348.67,446.99 L1349.87,464.57 L1351.08,491.89 L1352.29,541.41 L1353.50,1548.92" stroke="#ff0000"/>
</g>
<text transform="translate(145.20,1073.7) scale(1,1.065)" font-size="37.3" fill="#262626" text-anchor="middle">0</text>
<text transform="translate(387.50,1073.7) scale(1,1.065)" font-size="37.3" fill="#262626" text-anchor="middle">0.1</text>
<text transform="translate(629.00,1073.7) scale(1,1.065)" font-size="37.3" fill="#262626" text-anchor="middle">0.2</text>
<text transform="translate(870.50,1073.7) scale(1,1.065)" font-size="37.3" fill="#262626" text-anchor="middle">0.3</text>
<text transform="translate(1112.00,1073.7) scale(1,1.065)" font-size="37.3" fill="#262626" text-anchor="middle">0.4</text>
<text transform="translate(1353.50,1073.7) scale(1,1.065)" font-size="37.3" fill="#262626" text-anchor="middle">0.5</text>
<text transform="translate(129.4,81.40) scale(1,1.065)" font-size="37.3" fill="#262626" text-anchor="end">0</text>
<text transform="translate(129.4,187.34) scale(1,1.065)" font-size="37.3" fill="#262626" text-anchor="end">-50</text>
<text transform="translate(129.4,293.29) scale(1,1.065)" font-size="37.3" fill="#262626" text-anchor="end">-100</text>
<text transform="translate(129.4,399.23) scale(1,1.065)" font-size="37.3" fill="#262626" text-anchor="end">-150</text>
<text transform="translate(129.4,505.18) scale(1,1.065)" font-size="37.3" fill="#262626" text-anchor="end">-200</text>
<text transform="translate(129.4,611.12) scale(1,1.065)" font-size="37.3" fill="#262626" text-anchor="end">-250</text>
<text transform="translate(129.4,717.07) scale(1,1.065)" font-size="37.3" fill="#262626" text-anchor="end">-300</text>
<text transform="translate(129.4,823.01) scale(1,1.065)" font-size="37.3" fill="#262626" text-anchor="end">-350</text>
<text transform="translate(129.4,928.96) scale(1,1.065)" font-size="37.3" fill="#262626" text-anchor="end">-400</text>
<text transform="translate(129.4,1034.90) scale(1,1.065)" font-size="37.3" fill="#262626" text-anchor="end">-450</text>
<text x="749.6" y="1132.2" font-size="44.5" fill="#262626" text-anchor="middle">Normalized Frequency (f / Fs)</text>
<text transform="translate(32.4,543.3) rotate(-90)" font-size="44.5" fill="#262626" text-anchor="middle">Magnitude (dB)</text>
<text y="49.1" font-size="44.5" font-weight="bold" fill="#000"><tspan x="227.6">CIC Filter Frequency Responses: Sinc</tspan><tspan x="1034" dy="-22.2" font-size="36.9">1</tspan><tspan x="1055.2" dy="22.2"> and Sinc</tspan><tspan x="1253.8" dy="-22.2" font-size="36.9">2</tspan></text>
<rect x="791.2" y="95.5" width="533" height="131.7" fill="#fff" stroke="#262626" stroke-width="2.1"/>
<path d="M802.4,130.6 H914" stroke="#0000ff" stroke-width="5.9"/>
<path d="M802.4,191.8 H914" stroke="#ff0000" stroke-width="5.9"/>
<text x="921.2" y="150.9" font-size="37.1" fill="#000">Sinc<tspan dy="-18.3" font-size="31.5">1</tspan><tspan x="1010.7" dy="18.3"> Response (N = 1)</tspan></text>
<text x="921.2" y="211.8" font-size="37.1" fill="#000">Sinc<tspan dy="-18.3" font-size="31.5">2</tspan><tspan x="1010.7" dy="18.3"> Response (N = 2)</tspan></text>
</svg>
</body></html>
